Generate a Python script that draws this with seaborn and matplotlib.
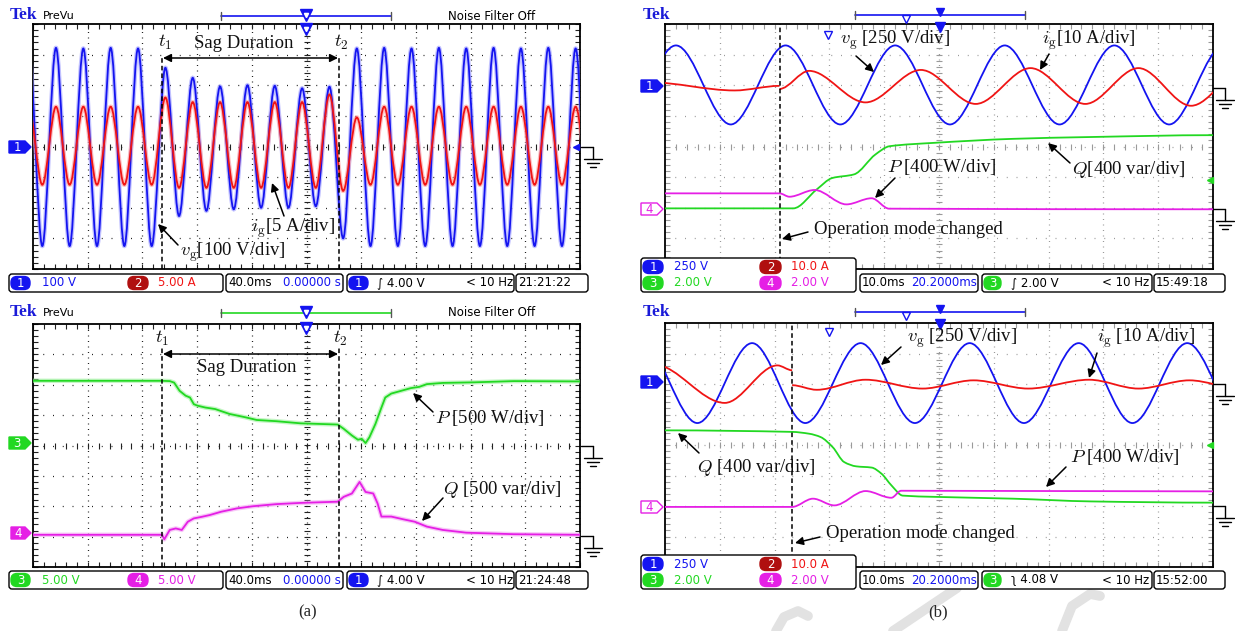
import numpy as np
import matplotlib
matplotlib.use("Agg")
import matplotlib.pyplot as plt
import seaborn as sns
from matplotlib.path import Path
from matplotlib.patches import PathPatch, FancyBboxPatch, FancyArrowPatch, Polygon
from matplotlib.lines import Line2D
from matplotlib.ticker import MultipleLocator
from matplotlib.transforms import Affine2D

W, H = 1235, 631

# ---------------- data, in scope divisions (x 0..10, y -4..4) ----------------
# (a) top: turning points of v_g and i_g (same instants for both traces)
A1_T = [-0.08, 0.17, 0.42, 0.67, 0.92, 1.17, 1.42, 1.67, 1.92, 2.17,
        2.42, 2.67, 2.92, 3.17, 3.42, 3.67, 3.92, 4.17, 4.42, 4.67, 4.92, 5.17, 5.42,
        5.67, 5.92, 6.17, 6.42, 6.67, 6.92, 7.17, 7.42, 7.67, 7.92, 8.17, 8.42,
        8.67, 8.92, 9.17, 9.42, 9.67, 9.92, 10.17]
A1_VG = [3.2, -3.25, 3.22, -3.25, 3.2, -3.25, 3.22, -3.25, 3.2, -3.25,
         2.57, -2.27, 2.24, -2.1, 1.96, -2.05, 2.0, -2.0, 1.98, -2.0, 1.9, -1.95, 1.95,
         -3.0, 3.2, -3.25, 3.22, -3.25, 3.2, -3.25, 3.22, -3.25, 3.2, -3.25, 3.22,
         -3.25, 3.2, -3.25, 3.22, -3.25, 3.2, -3.25]
A1_IG = [1.3, -1.25, 1.3, -1.25, 1.3, -1.25, 1.3, -1.25, 1.3, -1.25,
         1.6, -1.35, 1.45, -1.35, 1.45, -1.35, 1.45, -1.35, 1.45, -1.35, 1.45, -1.35, 1.7,
         -1.45, 0.95, -1.25, 1.3, -1.25, 1.3, -1.25, 1.3, -1.25, 1.3, -1.25, 1.3,
         -1.25, 1.3, -1.25, 1.3, -1.25, 1.3, -1.25]
A_SAG = [2.36, 5.59]

# (a) bottom: P and Q
A2_P_X = [0, 2.36, 2.50, 2.58, 2.68, 2.79, 2.87, 2.94, 3.01, 3.15,
          3.33, 3.59, 3.88, 4.09, 4.45, 4.89, 5.57, 5.68, 5.83, 5.94,
          6.01, 6.08, 6.15, 6.26, 6.37, 6.44, 6.55, 6.69, 6.91, 7.06,
          7.20, 7.49, 8.07, 8.79, 10.0]
A2_P_Y = [2.13, 2.13, 2.12, 2.07, 1.80, 1.64, 1.58, 1.36, 1.31, 1.25,
          1.20, 1.04, 0.93, 0.84, 0.80, 0.73, 0.69, 0.55, 0.33, 0.19,
          0.22, 0.08, 0.27, 0.71, 1.25, 1.58, 1.71, 1.78, 1.89, 1.93,
          2.02, 2.06, 2.08, 2.12, 2.11]
A2_Q_X = [0, 2.36, 2.40, 2.50, 2.61, 2.72, 2.83, 2.94, 3.08, 3.23,
          3.44, 3.73, 4.02, 4.45, 4.89, 5.57, 5.68, 5.83, 5.97, 6.08,
          6.22, 6.30, 6.37, 6.55, 6.77, 6.98, 7.20, 7.49, 7.92, 8.79, 10.0]
A2_Q_Y = [-2.94, -2.94, -3.09, -2.78, -2.73, -2.78, -2.51, -2.40, -2.35, -2.29,
          -2.18, -2.07, -2.0, -1.93, -1.89, -1.85, -1.69, -1.58, -1.20, -1.53,
          -1.58, -1.91, -2.34, -2.34, -2.43, -2.51, -2.67, -2.78, -2.87, -2.92, -2.94]

# (b) top
B1_VG_T = [-0.8, 0.2, 1.2, 2.2, 3.2, 4.2, 5.2, 6.2, 7.2, 8.2, 9.2, 10.2]
B1_VG = [0.72, 3.3, 0.72, 3.3, 0.72, 3.3, 0.72, 3.3, 0.72, 3.3, 0.72, 3.3]
B1_IG_PRE_T = [-0.3, 1.27, 2.09]
B1_IG_PRE = [2.1, 1.83, 1.98]
B1_IG_POST_T = [2.09, 2.63, 3.66, 4.67, 5.67, 6.67, 7.67, 8.64, 9.6, 10.6]
B1_IG_POST = [1.88, 2.47, 1.44, 2.5, 1.39, 2.56, 1.39, 2.56, 1.33, 2.56]
B1_Q_X = [0, 2.34, 2.77, 3.05, 3.45, 3.84, 4.1, 4.92, 6.35, 7.78, 10.0]
B1_Q_Y = [-2.02, -2.02, -1.40, -1.03, -0.91, -0.26, 0.01, 0.12, 0.25, 0.31, 0.37]
B1_P_X = [0, 2.09, 2.27, 2.73, 3.31, 3.77, 4.09, 10.0]
B1_P_Y = [-1.53, -1.53, -1.64, -1.42, -1.89, -1.69, -2.03, -2.05]
B1_MODE = 2.09

# (b) bottom
B2_VG_T = [-0.41, 0.59, 1.59, 2.56, 3.57, 4.56, 5.56, 6.55, 7.55, 8.53, 9.53, 10.53]
B2_VG = [3.34, 0.72, 3.34, 0.72, 3.34, 0.72, 3.34, 0.72, 3.34, 0.72, 3.34, 0.72]
B2_IG_PRE_T = [-0.2, 1.09, 2.05, 2.32]
B2_IG_PRE = [2.64, 1.38, 2.61, 2.45]
B2_IG_POST_T = [2.32, 2.77, 3.66, 4.7, 5.63, 6.63, 7.74, 8.64, 9.57, 10.5]
B2_IG_POST = [1.96, 1.81, 2.14, 1.85, 2.12, 1.85, 2.14, 1.85, 2.12, 1.85]
B2_Q_X = [0, 2.32, 2.63, 2.84, 3.06, 3.27, 3.49, 3.77, 3.95, 4.13, 4.34, 4.92, 6.35, 7.78, 10.0]
B2_Q_Y = [0.48, 0.43, 0.37, 0.26, -0.07, -0.56, -0.70, -0.74, -0.94, -1.32, -1.66, -1.70, -1.76, -1.85, -1.89]
B2_P_X = [0, 2.32, 2.70, 3.09, 3.66, 4.13, 4.31, 10.0]
B2_P_Y = [-2.03, -2.03, -1.76, -1.98, -1.51, -1.73, -1.50, -1.52]
B2_MODE = 2.32

BLUE = "#1414f0"
RED = "#f01414"
GREEN = "#22d822"
MAGENTA = "#e51fe5"
DARKRED = "#b01010"
NARROW = ["Liberation Sans Narrow", "DejaVu Sans"]

sns.set_theme(style="white")
plt.rcParams["font.family"] = ["Liberation Serif", "DejaVu Serif"]
plt.rcParams["mathtext.fontset"] = "cm"

fig = plt.figure(figsize=(W / 100, H / 100), dpi=100)
# top-left pixel coordinates for all the scope decorations
PX = Affine2D().scale(1.0 / W, -1.0 / H).translate(0, 1) + fig.transFigure


def smooth_path(xs, ys):
    # monotone cubic through the read-off points, drawn as bezier segments
    xs = np.asarray(xs, float)
    ys = np.asarray(ys, float)
    d = np.diff(ys) / np.diff(xs)
    m = np.zeros_like(xs)
    for i in range(1, len(xs) - 1):
        if d[i - 1] * d[i] > 0:
            m[i] = 2.0 / (1.0 / d[i - 1] + 1.0 / d[i])
    verts = [(xs[0], ys[0])]
    codes = [Path.MOVETO]
    for i in range(len(xs) - 1):
        h = xs[i + 1] - xs[i]
        verts += [(xs[i] + h / 3, ys[i] + m[i] * h / 3),
                  (xs[i + 1] - h / 3, ys[i + 1] - m[i + 1] * h / 3),
                  (xs[i + 1], ys[i + 1])]
        codes += [Path.CURVE4] * 3
    return Path(verts, codes)


def curve(ax, xs, ys, color, lw=1.2, halo=None):
    path = smooth_path(xs, ys)
    if halo:
        ax.add_patch(PathPatch(path, fill=False, ec=halo, lw=lw + 1.8, alpha=0.55, zorder=3))
    ax.add_patch(PathPatch(path, fill=False, ec=color, lw=lw, zorder=4))


def jagged(ax, xs, ys, color, halo):
    sns.lineplot(x=xs, y=ys, ax=ax, color=halo, lw=3.2, alpha=0.6, estimator=None, sort=False, zorder=3)
    sns.lineplot(x=xs, y=ys, ax=ax, color=color, lw=1.3, estimator=None, sort=False, zorder=4)


def scope_axes(x0, y0, x1, y1, dots):
    ax = fig.add_axes([x0 / W, 1 - y1 / H, (x1 - x0) / W, (y1 - y0) / H])
    ax.set_facecolor("white")
    for s in ax.spines.values():
        s.set_visible(True)
        s.set_color("black")
        s.set_linewidth(1.3)
    for axis in (ax.xaxis, ax.yaxis):
        axis.set_major_locator(MultipleLocator(1))
        axis.set_minor_locator(MultipleLocator(0.2))
    ax.tick_params(which="both", direction="in", top=True, right=True, bottom=True, left=True,
                   labelbottom=False, labelleft=False, color=dots, length=3.5, width=0.8)
    for x in range(1, 10):
        ax.axvline(x, color=dots, lw=0.9, ls=(0, (0.8, 3.6)), zorder=1)
    for y in range(-3, 4):
        ax.axhline(y, color=dots, lw=0.9, ls=(0, (0.8, 7.0)), zorder=1)
    ax.plot(np.arange(0.2, 10, 0.2), np.zeros(49), ls="none", marker="|", ms=5, mew=0.8, color=dots, zorder=1)
    ax.plot(np.full(39, 5.0), np.arange(-3.8, 3.9, 0.2), ls="none", marker="_", ms=5, mew=0.8, color=dots, zorder=1)
    return ax


def finish(ax):
    ax.set_xlim(0, 10)
    ax.set_ylim(-4, 4)
    ax.set_xlabel("")
    ax.set_ylabel("")


def ptext(x, y, s, **kw):
    fig.text(x, y, s, transform=PX, **kw)


def pline(xs, ys, **kw):
    fig.add_artist(Line2D(xs, ys, transform=PX, **kw))


def pbox(x0, y0, x1, y1, ec="black", fc="white", lw=1.0, r=3, z=5):
    fig.add_artist(FancyBboxPatch((x0, y0), x1 - x0, y1 - y0, boxstyle=f"round,pad=0,rounding_size={r}",
                                  transform=PX, ec=ec, fc=fc, lw=lw, zorder=z))


def pill(x0, y, w, label, fc):
    pbox(x0, y - 6.5, x0 + w, y + 6.5, ec=fc, fc=fc, r=6, z=6)
    ptext(x0 + w / 2, y + 0.5, label, ha="center", va="center", color="white",
          fontsize=8.5, family=NARROW, zorder=7)


def ui(x, y, s, color="black", ha="left", size=8.5):
    ptext(x, y, s, ha=ha, va="center", color=color, fontsize=size, family=NARROW, zorder=7)


def parrow(x0, y0, x1, y1, style="-|>"):
    fig.add_artist(FancyArrowPatch((x0, y0), (x1, y1), arrowstyle=style, mutation_scale=12,
                                   transform=PX, color="black", lw=1.1, shrinkA=0, shrinkB=0, zorder=8))


def label(x, y, s, ha="left", size=13.5):
    ptext(x, y, s, ha=ha, va="center", fontsize=size, color="#111111", zorder=8)


def ch_marker(x0, x1, y, s, fc, ec, tc):
    pts = [(x0, y - 6), (x1 - 6, y - 6), (x1, y), (x1 - 6, y + 6), (x0, y + 6)]
    fig.add_artist(Polygon(pts, closed=True, transform=PX, fc=fc, ec=ec, lw=1.0, zorder=6))
    ptext((x0 + x1 - 6) / 2, y + 0.5, s, ha="center", va="center", color=tc, fontsize=8.5,
          family=NARROW, zorder=7)


def ground(xr, y):
    pline([xr, xr + 12], [y, y], color="black", lw=1.0)
    pline([xr + 12, xr + 12], [y, y + 12], color="black", lw=1.0)
    pline([xr + 3, xr + 21], [y + 12, y + 12], color="black", lw=1.0)
    pline([xr + 6, xr + 18], [y + 16, y + 16], color="black", lw=1.0)
    pline([xr + 9, xr + 15], [y + 20, y + 20], color="black", lw=1.0)


def pmark(x, y, marker, ms, fc, ec):
    fig.add_artist(Line2D([x], [y], transform=PX, marker=marker, ms=ms, mfc=fc, mec=ec, mew=1.0, ls="none", zorder=8))


# ------------------------------- (a) top -------------------------------
ax = scope_axes(33, 24, 580, 269, "#222222")
curve(ax, A1_T, A1_VG, BLUE, lw=1.3, halo="#9090ff")
curve(ax, A1_T, A1_IG, RED, lw=1.3, halo="#ff9090")
for t in A_SAG:
    ax.axvline(t, ymin=0, ymax=0.865, color="black", lw=1.1, ls=(0, (3, 2)), zorder=6)
finish(ax)

ptext(10, 15, "Tek", color="#1a1ad8", fontsize=12.5, fontweight="bold", va="center", zorder=7)
ui(43, 16, "PreVu", size=8)
ui(448, 16, "Noise Filter Off", size=8.5)
pline([221, 391], [16, 16], color=BLUE, lw=1.2)
pline([221, 221], [12, 20], color="#555555", lw=1.0)
pline([391, 391], [12, 20], color="#555555", lw=1.0)
pmark(306, 15, "v", 8, BLUE, BLUE)
pmark(306, 29, "v", 8, BLUE, BLUE)
pmark(306, 15, "v", 3, "white", "white")
pmark(306, 29, "v", 3, "white", "white")
ch_marker(9, 31, 147, "1", BLUE, BLUE, "white")
pmark(576, 147, "<", 5, BLUE, BLUE)
ground(581, 147)

label(165, 42, r"$t_1$", ha="center")
label(341, 42, r"$t_2$", ha="center")
label(244, 44, "Sag Duration", ha="center")
parrow(163, 58, 338, 58, style="<|-|>")
label(251, 228, r"$i_\mathrm{g}$[5 A/div]")
parrow(284, 216, 272, 183)
label(180, 252, r"$v_\mathrm{g}$[100 V/div]")
parrow(178, 245, 158, 224)

pbox(9, 274, 223, 292)
pill(11, 283, 19, "1", BLUE)
ui(42, 283, "100 V", BLUE)
pill(128, 283, 20, "2", DARKRED)
ui(158, 283, "5.00 A", RED)
pbox(226, 274, 343, 292)
ui(228, 283, "40.0ms")
ui(341, 283, "0.00000 s", BLUE, ha="right")
pbox(347, 274, 514, 292)
pill(349, 283, 19, "1", BLUE)
ui(377, 283, "\u222b 4.00 V")
ui(513, 283, "< 10 Hz", ha="right")
pbox(516, 274, 588, 292)
ui(518, 283, "21:21:22")

# ------------------------------ (a) bottom ------------------------------
ax = scope_axes(33, 324, 580, 567, "#222222")
jagged(ax, A2_P_X, A2_P_Y, GREEN, "#9ef09e")
jagged(ax, A2_Q_X, A2_Q_Y, MAGENTA, "#f3a3f3")
for t in A_SAG:
    ax.axvline(t, ymin=0, ymax=0.90, color="black", lw=1.1, ls=(0, (3, 2)), zorder=6)
finish(ax)

ptext(10, 312, "Tek", color="#1a1ad8", fontsize=12.5, fontweight="bold", va="center", zorder=7)
ui(43, 313, "PreVu", size=8)
ui(448, 313, "Noise Filter Off", size=8.5)
pline([221, 391], [313, 313], color=GREEN, lw=1.2)
pline([221, 221], [309, 317], color="#555555", lw=1.0)
pline([391, 391], [309, 317], color="#555555", lw=1.0)
pmark(306, 312, "v", 8, BLUE, BLUE)
pmark(306, 328, "v", 8, BLUE, BLUE)
pmark(306, 312, "v", 3, "white", "white")
pmark(306, 328, "v", 3, "white", "white")
ch_marker(9, 31, 443, "3", GREEN, GREEN, "white")
ch_marker(11, 31, 533, "4", MAGENTA, MAGENTA, "white")
ground(581, 446)
ground(581, 536)

label(162, 338, r"$t_1$", ha="center")
label(340, 338, r"$t_2$", ha="center")
label(247, 367, "Sag Duration", ha="center")
parrow(163, 354, 338, 354, style="<|-|>")
label(435, 418, r"$P$ [500 W/div]")
parrow(433, 412, 413, 393)
label(443, 490, r"$Q$ [500 var/div]")
parrow(443, 498, 422, 521)

pbox(9, 571, 223, 589)
pill(11, 580, 19, "3", GREEN)
ui(42, 580, "5.00 V", GREEN)
pill(128, 580, 20, "4", MAGENTA)
ui(158, 580, "5.00 V", MAGENTA)
pbox(226, 571, 343, 589)
ui(228, 580, "40.0ms")
ui(341, 580, "0.00000 s", BLUE, ha="right")
pbox(347, 571, 514, 589)
pill(349, 580, 19, "1", BLUE)
ui(377, 580, "\u222b 4.00 V")
ui(513, 580, "< 10 Hz", ha="right")
pbox(516, 571, 588, 589)
ui(518, 580, "21:24:48")

ptext(308, 612, "(a)", ha="center", va="center", fontsize=12, zorder=7)

# ------------------------------- (b) top -------------------------------
ax = scope_axes(665, 24, 1213, 269, "#9a9a9a")
curve(ax, B1_VG_T, B1_VG, BLUE, lw=1.3)
curve(ax, B1_IG_PRE_T, B1_IG_PRE, RED, lw=1.3)
curve(ax, B1_IG_POST_T, B1_IG_POST, RED, lw=1.3)
curve(ax, B1_Q_X, B1_Q_Y, GREEN, lw=1.3)
curve(ax, B1_P_X, B1_P_Y, MAGENTA, lw=1.3)
ax.axvline(B1_MODE, color="black", lw=1.1, ls=(0, (3, 2)), zorder=6)
finish(ax)


def b_decor(dy, trig, edge, clock):
    ptext(643, 15 + dy, "Tek", color="#1a1ad8", fontsize=12.5, fontweight="bold", va="center", zorder=7)
    pline([855, 1025], [15 + dy, 15 + dy], color=BLUE, lw=1.2)
    pline([855, 855], [11 + dy, 19 + dy], color="#555555", lw=1.0)
    pline([1025, 1025], [11 + dy, 19 + dy], color="#555555", lw=1.0)
    pmark(906, 19 + dy, "v", 6, "white", BLUE)
    pmark(940, 12 + dy, "v", 6, BLUE, BLUE)
    pmark(940, 27 + dy, "v", 7, BLUE, BLUE)
    pbox(641, 258 + dy, 856, 292 + dy)
    pill(643, 267 + dy, 20, "1", BLUE)
    ui(674, 267 + dy, "250 V", BLUE)
    pill(760, 267 + dy, 21, "2", DARKRED)
    ui(791, 267 + dy, "10.0 A", RED)
    pill(643, 283 + dy, 20, "3", GREEN)
    ui(674, 283 + dy, "2.00 V", GREEN)
    pill(760, 283 + dy, 21, "4", MAGENTA)
    ui(791, 283 + dy, "2.00 V", MAGENTA)
    pbox(860, 274 + dy, 978, 292 + dy)
    ui(862, 283 + dy, "10.0ms")
    ui(977, 283 + dy, "20.2000ms", BLUE, ha="right")
    pbox(982, 274 + dy, 1152, 292 + dy)
    pill(984, 283 + dy, 17, "3", GREEN)
    ui(1011, 283 + dy, edge + " " + trig)
    ui(1149, 283 + dy, "< 10 Hz", ha="right")
    pbox(1154, 274 + dy, 1225, 292 + dy)
    ui(1156, 283 + dy, clock)


b_decor(0, "2.00 V", "\u222b", "15:49:18")
ch_marker(641, 663, 86, "1", BLUE, BLUE, "white")
ch_marker(641, 663, 209, "4", "white", MAGENTA, MAGENTA)
pmark(1210, 180, "<", 5, GREEN, GREEN)
ground(1213, 88)
ground(1213, 209)
pmark(828, 35, "v", 6, "white", BLUE)

label(840, 40, r"$v_\mathrm{g}$ [250 V/div]")
parrow(856, 56, 874, 72)
label(1042, 40, r"$i_\mathrm{g}$[10 A/div]")
parrow(1049, 54, 1040, 70)
label(887, 167, r"$P$ [400 W/div]")
parrow(895, 178, 875, 198)
label(1072, 170, r"$Q$[400 var/div]")
parrow(1070, 163, 1048, 143)
label(814, 229, "Operation mode changed")
parrow(808, 232, 782, 239)

# ------------------------------ (b) bottom ------------------------------
ax = scope_axes(665, 323, 1213, 567, "#9a9a9a")
curve(ax, B2_VG_T, B2_VG, BLUE, lw=1.3)
curve(ax, B2_IG_PRE_T, B2_IG_PRE, RED, lw=1.3)
curve(ax, B2_IG_POST_T, B2_IG_POST, RED, lw=1.3)
curve(ax, B2_Q_X, B2_Q_Y, GREEN, lw=1.3)
curve(ax, B2_P_X, B2_P_Y, MAGENTA, lw=1.3)
ax.axvline(B2_MODE, color="black", lw=1.1, ls=(0, (3, 2)), zorder=6)
finish(ax)

b_decor(297, "4.08 V", "\u0285", "15:52:00")
ch_marker(641, 663, 382, "1", BLUE, BLUE, "white")
ch_marker(641, 663, 507, "4", "white", MAGENTA, MAGENTA)
pmark(1210, 445, "<", 5, GREEN, GREEN)
ground(1213, 384)
ground(1213, 506)
pmark(829, 332, "v", 6, "white", BLUE)

label(907, 338, r"$v_\mathrm{g}$ [250 V/div]")
parrow(901, 347, 881, 365)
label(1097, 338, r"$i_\mathrm{g}$ [10 A/div]")
parrow(1097, 353, 1089, 378)
label(697, 467, r"$Q$ [400 var/div]")
parrow(699, 453, 678, 433)
label(1070, 457, r"$P$ [400 W/div]")
parrow(1066, 467, 1046, 487)
label(826, 534, "Operation mode changed")
parrow(820, 537, 795, 543)

ptext(938, 612, "(b)", ha="center", va="center", fontsize=12, zorder=7)

# faint watermark strokes at the bottom right
pline([776, 784, 798, 808], [631, 617, 611, 616], color="#e2e2e2", lw=7, solid_capstyle="round", zorder=0)
pline([893, 957], [631, 588], color="#e2e2e2", lw=7, solid_capstyle="round", zorder=0)
pline([1062, 1072, 1090, 1100], [631, 606, 594, 596], color="#e2e2e2", lw=7, solid_capstyle="round", zorder=0)

fig.savefig("out.png", dpi=100)
plt.close(fig)
